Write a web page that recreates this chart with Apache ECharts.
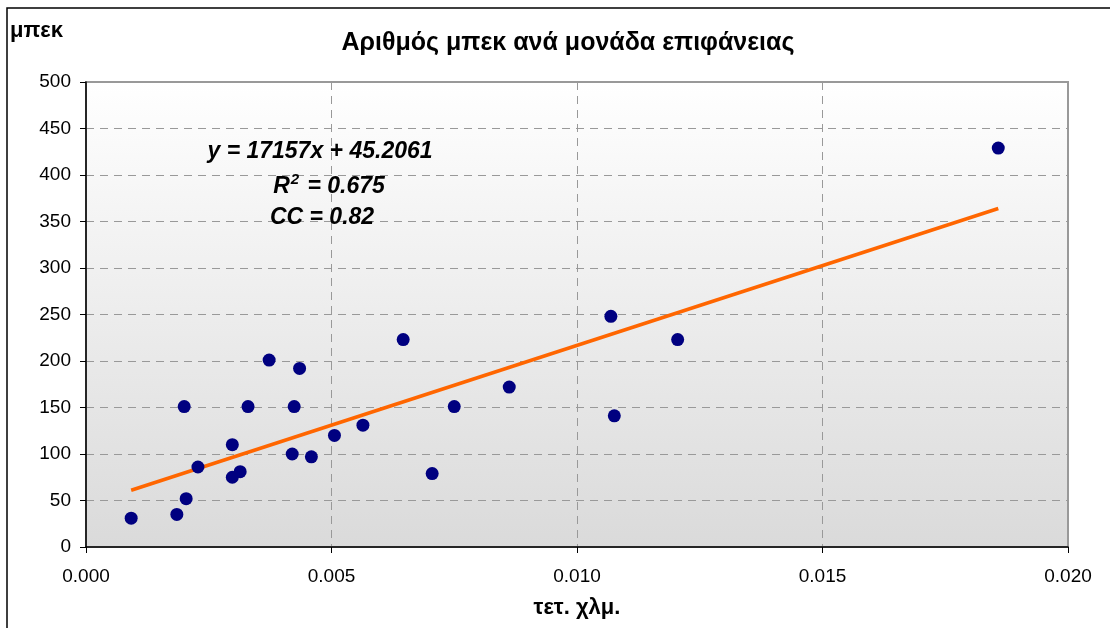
<!DOCTYPE html>
<html>
<head>
<meta charset="utf-8">
<script src="https://cdn.jsdelivr.net/npm/echarts@6/dist/echarts.min.js"></script>
<style>
  html, body { margin: 0; padding: 0; background: #ffffff; }
  #chart { width: 1110px; height: 628px; }
</style>
</head>
<body>
<div id="chart"></div>
<script>
// Surface area (sq. km) and number of wells per site
const areaKm2 = [
  0.00092, 0.00185, 0.00200, 0.00204, 0.00228, 0.00298, 0.00298, 0.00314,
  0.00330, 0.00373, 0.00420, 0.00424, 0.00435, 0.00459, 0.00506, 0.00564,
  0.00646, 0.00705, 0.00750, 0.00862, 0.01069, 0.01076, 0.01205, 0.01858
];
const wells = [
  31, 35, 151, 52, 86, 110, 75, 81,
  151, 201, 100, 151, 192, 97, 120, 131,
  223, 79, 151, 172, 248, 141, 223, 429
];

// Linear fit shown on the chart
const slope = 17157;
const intercept = 45.2061;
const rSquared = '0.675';
const corrCoef = '0.82';

const xTicks = [0, 0.005, 0.010, 0.015, 0.020];
const yTicks = [0, 50, 100, 150, 200, 250, 300, 350, 400, 450, 500];

const points = areaKm2.map((x, i) => [x, wells[i]]);
const xFitMin = Math.min(...areaKm2);
const xFitMax = Math.max(...areaKm2);
const fitLine = [xFitMin, xFitMax].map(x => [x, slope * x + intercept]);

const font = '"Liberation Sans", Arial, sans-serif';

const chart = echarts.init(document.getElementById('chart'), null, { renderer: 'canvas' });
chart.setOption({
  animation: false,
  backgroundColor: '#ffffff',
  title: {
    text: 'Αριθμός μπεκ ανά μονάδα επιφάνειας',
    left: 563,
    textAlign: 'center',
    top: 26,
    textStyle: { fontFamily: font, fontSize: 25, fontWeight: 'bold', color: '#000' }
  },
  grid: {
    left: 86, right: 42, top: 82, bottom: 81,
    outerBoundsMode: 'none',
    containLabel: false,
    show: true,
    borderColor: '#999999',
    borderWidth: 2,
    backgroundColor: {
      type: 'linear', x: 0, y: 0, x2: 0, y2: 1,
      colorStops: [
        { offset: 0, color: '#ffffff' },
        { offset: 1, color: '#dadada' }
      ]
    }
  },
  xAxis: {
    type: 'value',
    min: xTicks[0],
    max: xTicks[xTicks.length - 1],
    interval: xTicks[1] - xTicks[0],
    name: 'τετ. χλμ.',
    nameLocation: 'middle',
    nameGap: 50,
    nameTextStyle: { fontFamily: font, fontSize: 22, fontWeight: 'bold', color: '#000' },
    axisLine: { show: true, onZero: false, lineStyle: { color: '#000', width: 1.5 } },
    axisTick: { show: true, inside: false, length: 6, lineStyle: { color: '#000' } },
    axisLabel: {
      margin: 20,
      fontFamily: font, fontSize: 19, color: '#000',
      formatter: v => v.toFixed(3)
    },
    splitLine: { show: true, lineStyle: { color: '#999999', type: [8, 6], width: 1 } }
  },
  yAxis: {
    type: 'value',
    min: yTicks[0],
    max: yTicks[yTicks.length - 1],
    interval: yTicks[1] - yTicks[0],
    axisLine: { show: true, onZero: false, lineStyle: { color: '#000', width: 1.5 } },
    axisTick: { show: true, inside: false, length: 6, lineStyle: { color: '#000' } },
    axisLabel: { margin: 15, fontFamily: font, fontSize: 19, color: '#000' },
    splitLine: { show: true, lineStyle: { color: '#999999', type: [8, 6], width: 1 } }
  },
  series: [
    {
      type: 'line',
      data: fitLine,
      showSymbol: false,
      symbol: 'none',
      lineStyle: { color: '#ff6600', width: 3.5 },
      z: 2
    },
    {
      type: 'scatter',
      data: points,
      symbol: 'circle',
      symbolSize: 13,
      itemStyle: { color: '#000080', opacity: 1 },
      z: 3
    }
  ],
  graphic: [
    {
      type: 'rect',
      shape: { x: 7, y: 8, width: 1200, height: 700 },
      style: { fill: 'none', stroke: '#000', lineWidth: 1.5 },
      silent: true, z: 100
    },
    {
      type: 'text',
      left: 10, top: 20,
      style: { text: 'μπεκ', font: 'bold 22px ' + font, fill: '#000' },
      z: 100
    },
    {
      type: 'text',
      x: 320, y: 152,
      style: {
        text: 'y = ' + slope + 'x + ' + intercept,
        font: 'italic bold 23px ' + font,
        fill: '#000', align: 'center', verticalAlign: 'middle'
      },
      z: 100
    },
    {
      type: 'text',
      x: 329, y: 185,
      style: {
        text: '{b|R}{s|2}{b| = ' + rSquared + '}',
        fill: '#000', align: 'center', verticalAlign: 'middle',
        rich: {
          b: { font: 'italic bold 23px ' + font, fill: '#000', verticalAlign: 'bottom', lineHeight: 26 },
          s: { font: 'italic bold 15px ' + font, fill: '#000', verticalAlign: 'top', lineHeight: 26, padding: [0, 2, 0, 1] }
        }
      },
      z: 100
    },
    {
      type: 'text',
      x: 322, y: 218,
      style: {
        text: 'CC = ' + corrCoef,
        font: 'italic bold 23px ' + font,
        fill: '#000', align: 'center', verticalAlign: 'middle'
      },
      z: 100
    }
  ]
});
</script>
</body>
</html>
